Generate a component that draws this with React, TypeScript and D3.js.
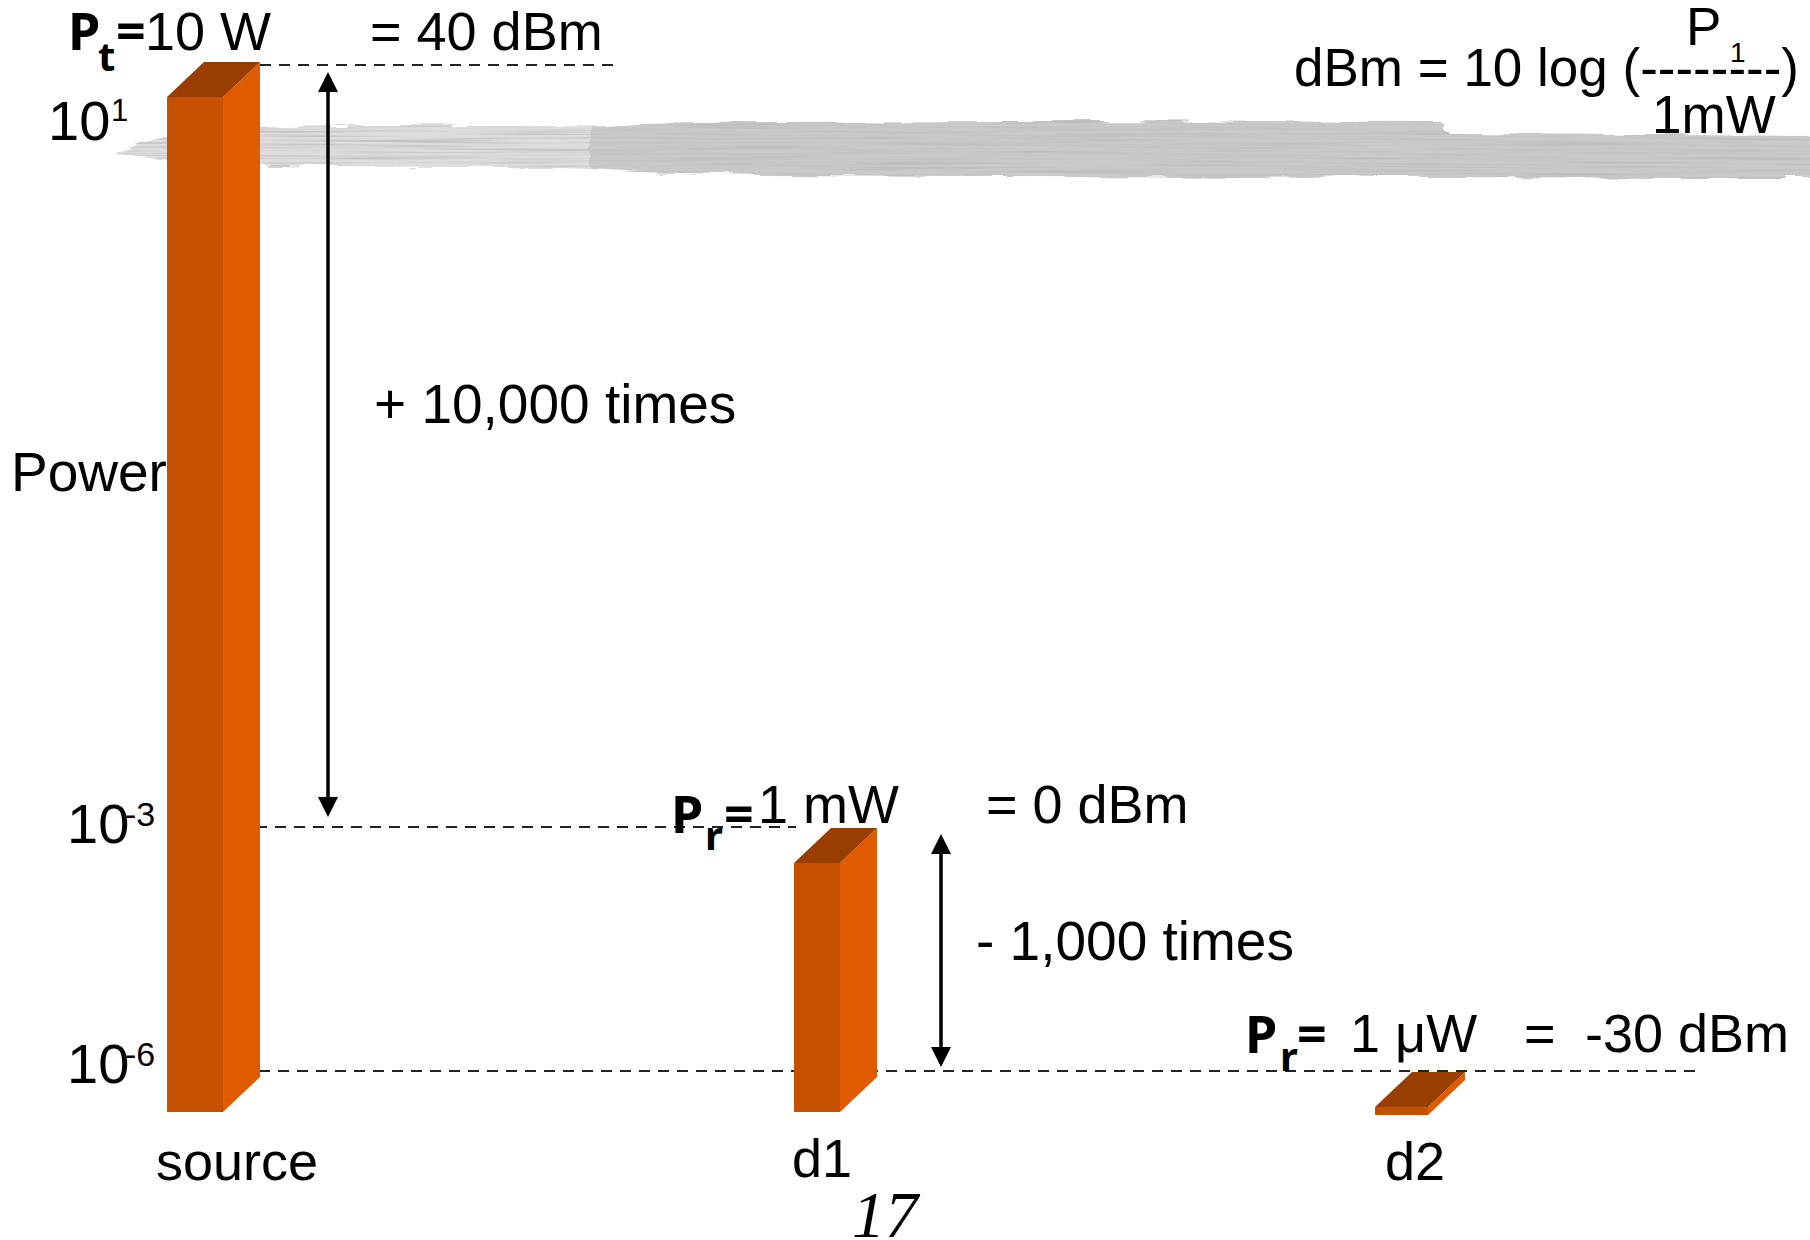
import React from "react";
import * as d3 from "d3";

// ---------- data ----------
const categories = ["source", "d1", "d2"];
const powerExp = [1, -3, -6]; // log10(power in W)
const powerText = ["10 W", "1 mW", "1 \u03bcW"];
const dbmText = ["= 40 dBm", "= 0 dBm", "-30 dBm"];
const symbolSub = ["t", "r", "r"];
const tickExp = [1, -3, -6];
const tickSup = ["1", "-3", "-6"];
const ratioText = ["+ 10,000 times", "- 1,000 times"];
const formulaLhs = "dBm = 10 log (--------)";
const formulaNum = "P";
const formulaNumSub = "1";
const formulaDen = "1mW";
const axisTitle = "Power";
const pageNumber = "17";

// ---------- layout ----------
const W = 1810;
const H = 1240;
const SANS = "'Liberation Sans', Arial, sans-serif";
const BOLD = "'Noto Sans', 'Liberation Sans', sans-serif";
const FS = 54;
const DX = 37;
const DY = 35;
const BASE = 1112;
const C_FRONT = "#C45000";
const C_SIDE = "#E05A00";
const C_TOP = "#9A3D00";

const y = d3.scaleLinear().domain([-6, -3, 1]).range([1072, 828, 62]);
const yTick = d3.scaleLinear().domain([-6, -3, 1]).range([1083, 843, 140]);
const xFront = d3.scaleOrdinal<string, number>().domain(categories).range([167, 794, 1375]);
const wFront = d3.scaleOrdinal<string, number>().domain(categories).range([56, 46, 53]);
const xCat = d3.scaleOrdinal<string, number>().domain(categories).range([156, 792, 1385]);
const yCat = d3.scaleOrdinal<string, number>().domain(categories).range([1180, 1177, 1180]);
const lineX0 = d3.scaleOrdinal<string, number>().domain(categories).range([241, 237, 240]);
const lineX1 = d3.scaleOrdinal<string, number>().domain(categories).range([620, 796, 1700]);

const annot = [
  { px: 68, pBase: 50, sx: 98, sBase: 71, ex: 116, vx: 145, vBase: 50, dx: 370, dBase: 50 },
  { px: 671, pBase: 833, sx: 705, sBase: 850, ex: 724, vx: 758, vBase: 823, dx: 986, dBase: 823 },
  { px: 1245, pBase: 1053, sx: 1280, sBase: 1071, ex: 1297, vx: 1350, vBase: 1052, dx: 1585, dBase: 1052 },
];
const arrowX = [328, 941];
const arrowInset = [
  [10, 11],
  [6, 5],
];
const ratioPos = [
  { x: 374, y: 423 },
  { x: 976, y: 960 },
];

function Arrow({ x, y0, y1 }: { x: number; y0: number; y1: number }) {
  const hw = 10;
  const hl = 20;
  return (
    <g>
      <line x1={x} x2={x} y1={y0 + hl - 2} y2={y1 - hl + 2} stroke="#000" strokeWidth={3.5} />
      <polygon points={`${x},${y0} ${x - hw},${y0 + hl} ${x + hw},${y0 + hl}`} fill="#000" />
      <polygon points={`${x},${y1} ${x - hw},${y1 - hl} ${x + hw},${y1 - hl}`} fill="#000" />
    </g>
  );
}

export default function App() {
  const bandLight =
    "M118,151 L140,143 L170,136 L230,129 L320,126 L460,126 L560,126 L620,127 L620,169 L560,167 L460,167 L320,166 L230,164 L170,160 L140,157 L118,155 Z";
  const bandDark =
    "M590,127 L640,124 L760,122 L1000,121 L1440,122 L1450,134 L1820,136 L1820,178 L1440,177 L1000,176 L760,175 L640,172 L590,169 Z";

  return (
    <svg
      width={W}
      height={H}
      viewBox={`0 0 ${W} ${H}`}
      style={{ position: "absolute", left: 0, top: 0, display: "block", background: "#fff" }}
    >
      <defs>
        <linearGradient id="fadeIn" x1="0" x2="1" y1="0" y2="0">
          <stop offset="0" stopColor="#cbcbcb" stopOpacity={0} />
          <stop offset="1" stopColor="#cbcbcb" stopOpacity={1} />
        </linearGradient>
        <filter id="brush" x="-2%" y="-40%" width="104%" height="180%">
          <feTurbulence type="fractalNoise" baseFrequency="0.02 0.15" numOctaves={2} seed={3} result="disp" />
          <feDisplacementMap
            in="SourceGraphic"
            in2="disp"
            scale={9}
            xChannelSelector="R"
            yChannelSelector="G"
            result="rag"
          />
          <feTurbulence type="fractalNoise" baseFrequency="0.006 0.45" numOctaves={2} seed={7} result="n" />
          <feColorMatrix
            in="n"
            type="matrix"
            values="0 0 0 0 0.5  0 0 0 0 0.5  0 0 0 0 0.5  2.4 0 0 0 -1.05"
            result="streak"
          />
          <feComposite in="streak" in2="rag" operator="in" result="s2" />
          <feMerge>
            <feMergeNode in="rag" />
            <feMergeNode in="s2" />
          </feMerge>
        </filter>
      </defs>
      <rect x={0} y={0} width={W} height={H} fill="#fff" />

      {/* gray brush band */}
      <g filter="url(#brush)">
        <path d={bandLight} fill="#dddddd" />
        <path d={bandDark} fill="#c9c9c9" />
      </g>

      {/* dashed reference lines */}
      {categories.map((c, i) => (
        <line
          key={"ref" + c}
          x1={lineX0(c)}
          x2={lineX1(c)}
          y1={y(powerExp[i]) + (i === 0 ? 3 : -1)}
          y2={y(powerExp[i]) + (i === 0 ? 3 : -1)}
          stroke="#222"
          strokeWidth={2}
          strokeDasharray="11 8"
        />
      ))}

      {/* 3D bars */}
      {categories.map((c, i) => {
        const yb = y(powerExp[i]);
        const xf = xFront(c);
        const w = wFront(c);
        const ft = yb + DY;
        const bottom = Math.max(BASE, ft + 8);
        return (
          <g key={"bar" + c}>
            <rect x={xf} y={ft} width={w} height={bottom - ft} fill={C_FRONT} />
            <polygon
              points={`${xf + w},${ft} ${xf + w + DX},${yb} ${xf + w + DX},${bottom - DY} ${xf + w},${bottom}`}
              fill={C_SIDE}
            />
            <polygon points={`${xf},${ft} ${xf + DX},${yb} ${xf + w + DX},${yb} ${xf + w},${ft}`} fill={C_TOP} />
          </g>
        );
      })}

      {/* arrows */}
      {ratioText.map((t, i) => (
        <Arrow
          key={"ar" + i}
          x={arrowX[i]}
          y0={y(powerExp[i]) + arrowInset[i][0]}
          y1={y(powerExp[i + 1]) - arrowInset[i][1]}
        />
      ))}
      {ratioText.map((t, i) => (
        <text key={"rt" + i} x={ratioPos[i].x} y={ratioPos[i].y} fontFamily={SANS} fontSize={55} fill="#000">
          {t}
        </text>
      ))}

      {/* y tick labels */}
      {tickExp.map((e, i) => (
        <g key={"tk" + i}>
          <text x={i === 0 ? 48 : 67} y={yTick(e)} fontFamily={SANS} fontSize={56} fill="#000">
            10
          </text>
          <text
            x={i === 0 ? 111 : 125}
            y={yTick(e) - (i === 0 ? 19 : 17)}
            fontFamily={SANS}
            fontSize={i === 0 ? 31 : 34}
            fill="#000"
          >
            {tickSup[i]}
          </text>
        </g>
      ))}
      <text x={11} y={491} fontFamily={SANS} fontSize={55} fill="#000">
        {axisTitle}
      </text>

      {/* power annotations */}
      {categories.map((c, i) => {
        const a = annot[i];
        return (
          <g key={"an" + c}>
            <text x={a.px} y={a.pBase} fontFamily={BOLD} fontWeight={700} fontSize={52} fill="#000">
              P
            </text>
            <text x={a.sx} y={a.sBase} fontFamily={BOLD} fontWeight={700} fontSize={40} fill="#000">
              {symbolSub[i]}
            </text>
            <text x={a.ex} y={a.pBase} fontFamily={BOLD} fontWeight={700} fontSize={52} fill="#000">
              =
            </text>
            <text x={a.vx} y={a.vBase} fontFamily={SANS} fontSize={FS} fill="#000">
              {powerText[i]}
            </text>
            {i === 2 && (
              <text x={1524} y={a.dBase} fontFamily={SANS} fontSize={FS} fill="#000">
                =
              </text>
            )}
            <text x={a.dx} y={a.dBase} fontFamily={SANS} fontSize={FS} fill="#000">
              {dbmText[i]}
            </text>
          </g>
        );
      })}

      {/* formula */}
      <text x={1294} y={86} fontFamily={SANS} fontSize={53} fill="#000">
        {formulaLhs}
      </text>
      <text x={1686} y={45} fontFamily={SANS} fontSize={53} fill="#000">
        {formulaNum}
      </text>
      <text x={1730} y={62} fontFamily={SANS} fontSize={28} fill="#000">
        {formulaNumSub}
      </text>
      <text x={1652} y={133} fontFamily={SANS} fontSize={53} fill="#000">
        {formulaDen}
      </text>

      {/* category labels */}
      {categories.map((c) => (
        <text key={"cl" + c} x={xCat(c)} y={yCat(c)} fontFamily={SANS} fontSize={FS} fill="#000">
          {c}
        </text>
      ))}

      {/* page number */}
      <text
        x={852}
        y={1237}
        fontFamily="'Liberation Serif', 'Times New Roman', serif"
        fontStyle="italic"
        fontSize={66}
        fill="#000"
      >
        {pageNumber}
      </text>
    </svg>
  );
}
